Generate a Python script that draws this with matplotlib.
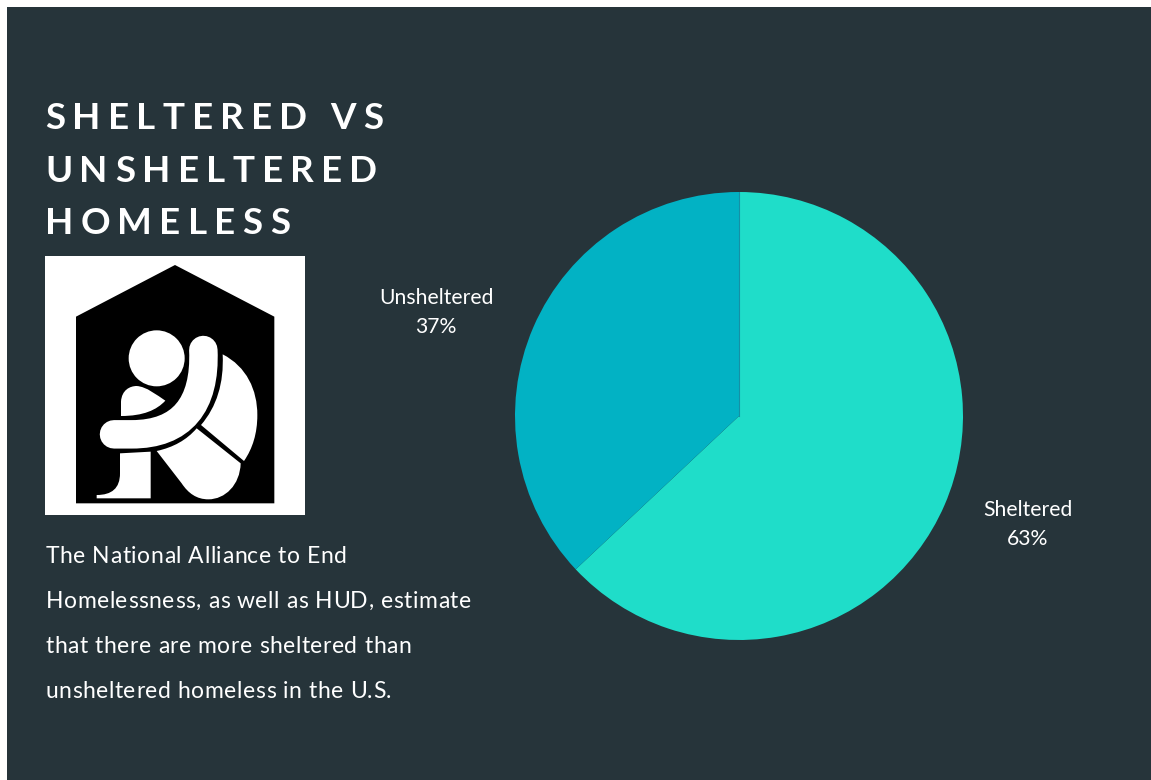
import matplotlib
matplotlib.use("Agg")
import matplotlib.pyplot as plt
from matplotlib.patches import Circle, PathPatch, Polygon, Rectangle
from matplotlib.path import Path

W, H = 1151, 780
BG = "#26343A"

categories = ["Sheltered", "Unsheltered"]
values = [63, 37]
slice_colors = ["#1FDDC9", "#02B2C4"]

title_lines = ["SHELTERED VS", "UNSHELTERED", "HOMELESS"]
body_lines = [
    "The National Alliance to End",
    "Homelessness, as well as HUD, estimate",
    "that there are more sheltered than",
    "unsheltered homeless in the U.S.",
]

plt.rcParams["font.family"] = ["Lato", "DejaVu Sans"]

fig = plt.figure(figsize=(W / 100, H / 100), dpi=100, facecolor="white")

# overlay axes in pixel coordinates, y pointing down
bg = fig.add_axes([0, 0, 1, 1])
bg.set_xlim(0, W)
bg.set_ylim(H, 0)
bg.axis("off")
bg.add_patch(Rectangle((7, 7), W - 7, H - 7, color=BG, lw=0))

# pie
cx, cy, r = 739, 416, 224
ax = fig.add_axes([(cx - r) / W, 1 - (cy + r) / H, 2 * r / W, 2 * r / H])
ax.pie(values, colors=slice_colors, startangle=90, counterclock=False, radius=1)
ax.plot([0, 0], [0, 1], color="#1590A5", lw=0.8)  # darker seam at twelve o'clock
ax.set_xlim(-1, 1)
ax.set_ylim(-1, 1)

renderer = fig.canvas.get_renderer()


def tracked(x, y, s, size, spacing, weight="normal"):
    # matplotlib has no letter spacing, so place each glyph from the prefix width
    def width(t):
        probe = bg.text(0, 0, t + "|", fontsize=size, fontweight=weight)
        w = probe.get_window_extent(renderer).width
        probe.remove()
        return w

    bar = width("")
    for i, ch in enumerate(s):
        if ch == " ":
            continue
        offset = width(s[:i]) - bar + i * spacing
        bg.text(x + offset, y, ch, color="white", fontsize=size,
                fontweight=weight, va="baseline", ha="left")


for line, base in zip(title_lines, [129, 182, 234]):
    tracked(45, base, line, 26.5, 7.2, weight="bold")

for line, base in zip(body_lines, [563, 608, 653, 698]):
    tracked(45.5, base, line, 16.5, 0.55)

# slice labels
for name, val, lx, ly in zip(categories, values, [1028, 436], [516, 304]):
    bg.text(lx, ly, name, color="white", fontsize=15.2, ha="center", va="baseline")
    bg.text(lx, ly + 29, f"{val}%", color="white", fontsize=15.2, ha="center", va="baseline")

# icon: outlines traced at 3x, shifted into place by pt()
icon = fig.add_axes([0, 0, 1, 1], facecolor="none")
icon.set_xlim(0, W)
icon.set_ylim(H, 0)
icon.axis("off")


def pt(x, y):
    return (x / 3 + 40, y / 3 + 250)


def shape(cmds):
    verts, codes = [], []
    for code, *pts in cmds:
        for p in pts:
            verts.append(pt(*p))
            codes.append(code)
    return Path(verts, codes)


M, L, C = Path.MOVETO, Path.LINETO, Path.CURVE4

icon.add_patch(Rectangle((45, 256), 260, 259, color="white", lw=0))
icon.add_patch(Polygon([pt(108, 760), pt(108, 200), pt(405, 45), pt(703, 200), pt(703, 760)],
                       closed=True, color="black", lw=0))

# back
icon.add_patch(PathPatch(shape([
    (M, (548, 313)),
    (C, (620, 350), (652, 420), (652, 495)),
    (C, (652, 550), (638, 595), (612, 633)),
    (L, (483, 525)),
    (C, (530, 470), (552, 400), (548, 313)),
]), fc="white", ec="none"))

# thigh and knee
icon.add_patch(PathPatch(shape([
    (M, (350, 603)),
    (C, (400, 592), (440, 570), (470, 535)),
    (L, (602, 640)),
    (C, (600, 705), (555, 748), (505, 748)),
    (C, (470, 748), (445, 730), (425, 700)),
    (L, (350, 603)),
]), fc="white", ec="none"))

# shin and foot
icon.add_patch(PathPatch(shape([
    (M, (240, 610)),
    (L, (332, 605)),
    (L, (332, 745)),
    (L, (170, 745)),
    (L, (170, 735)),
    (C, (215, 735), (240, 715), (240, 670)),
    (L, (240, 610)),
]), fc="white", ec="none"))

# far knee
icon.add_patch(PathPatch(shape([
    (M, (243, 498)),
    (L, (243, 455)),
    (C, (245, 420), (270, 408), (290, 408)),
    (C, (320, 410), (350, 435), (376, 452)),
    (C, (350, 480), (310, 498), (243, 498)),
]), fc="white", ec="none"))

icon.add_patch(Circle(pt(350, 325), 84 / 3, color="white", lw=0))

# arm, black halo under a round-capped white stroke
arm = shape([
    (M, (222, 553)),
    (L, (275, 553)),
    (C, (425, 553), (497, 465), (490, 300)),
])
icon.add_patch(PathPatch(arm, fc="none", ec="black", lw=23, capstyle="round"))
icon.add_patch(PathPatch(arm, fc="none", ec="white", lw=20.5, capstyle="round"))

fig.savefig("out.png", dpi=100, facecolor=fig.get_facecolor())
